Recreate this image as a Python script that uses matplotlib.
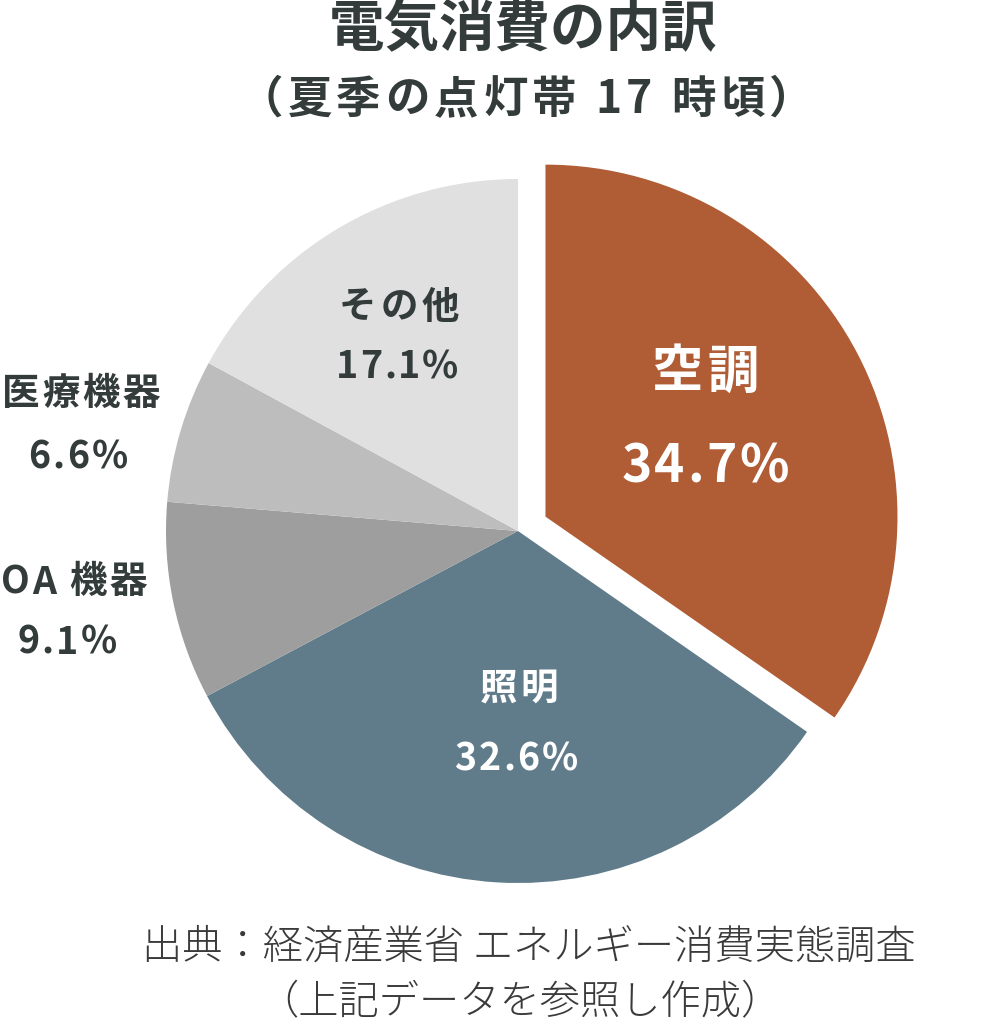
import matplotlib
matplotlib.use("Agg")
import matplotlib.pyplot as plt
from matplotlib.font_manager import FontProperties, findfont, get_font

plt.rcParams['font.family'] = ['Noto Sans CJK JP', 'DejaVu Sans']

categories = ['空調', '照明', 'OA 機器', '医療機器', 'その他']
values = [34.7, 32.6, 9.1, 6.6, 17.1]
colors = ['#B05C34', '#607C8A', '#9E9E9E', '#BDBDBD', '#E0E0E0']

title = '電気消費の内訳'
subtitle = '（夏季の点灯帯 17 時頃）'
source1 = '出典：経済産業省 エネルギー消費実態調査'
source2 = '（上記データを参照し作成）'

W, H = 1000, 1031
DPI = 100
fig = plt.figure(figsize=(W / DPI, H / DPI), dpi=DPI)
ax = fig.add_axes([0, 0, 1, 1])
ax.set_xlim(0, W)
ax.set_ylim(0, H)
ax.set_aspect('equal')
ax.axis('off')

cx, cy, r = 518, H - 531, 352
explode = [31, 0, 0, 0, 0]  # offset in pixels (data units)
ax.pie(values, colors=colors, explode=explode, startangle=90, counterclock=False,
       center=(cx, cy), radius=r, wedgeprops=dict(linewidth=0))
ax.set_xlim(0, W)
ax.set_ylim(0, H)

renderer = fig.canvas.get_renderer()
dark = '#333B3B'


def txt(x, y, s, size, color=dark, weight='bold', spacing=0.0):
    prop = FontProperties(family=['Noto Sans CJK JP'], weight=weight, size=size)
    if spacing == 0:
        ax.text(x, H - y, s, fontproperties=prop, color=color,
                ha='center', va='center')
        return
    t = ax.text(x, H - y, s, fontproperties=prop, ha='center', va='center')
    bb = t.get_window_extent(renderer)
    _, _, d = renderer.get_text_width_height_descent(s, prop, ismath=False)
    _, _, dlp = renderer.get_text_width_height_descent('lp', prop, ismath=False)
    t.remove()
    base = bb.y0 + max(d, dlp)
    font = get_font(findfont(prop))
    font.set_size(size, DPI)
    glyphs = []
    for c in s:
        g = font.load_char(ord(c))
        glyphs.append((c, g.linearHoriAdvance / 65536))
    sp = spacing * size * DPI / 72
    total = sum(a for _, a in glyphs) + sp * (len(s) - 1)
    cur = x - total / 2
    for c, a in glyphs:
        if c.strip():
            ax.text(cur, base, c, fontproperties=prop, color=color,
                    ha='left', va='baseline')
        cur += a + sp


# title
txt(523, 30, title, 40)
txt(526, 100, subtitle, 32, spacing=0.1)

# slice labels
txt(705, 372, categories[0], 37, color='white', spacing=0.1)
txt(705, 467, f'{values[0]}%', 37, color='white', spacing=0.05)
txt(519, 688, categories[1], 27, color='white', spacing=0.08)
txt(516, 759, f'{values[1]}%', 27, color='white', spacing=0.06)
txt(399, 307, categories[4], 27, spacing=0.1)
txt(397, 367, f'{values[4]}%', 27, spacing=0.05)
txt(81, 393, categories[3], 27, spacing=0.08)
txt(78, 457, f'{values[3]}%', 27, spacing=0.07)
txt(74, 582, categories[2], 27, spacing=0.06)
txt(67, 642, f'{values[2]}%', 27, spacing=0.06)

# source
txt(529, 948, source1, 29, color='#3A3A3A', weight='light')
txt(520, 1003, source2, 29, color='#3A3A3A', weight='light')

fig.savefig('out.png', dpi=DPI)
